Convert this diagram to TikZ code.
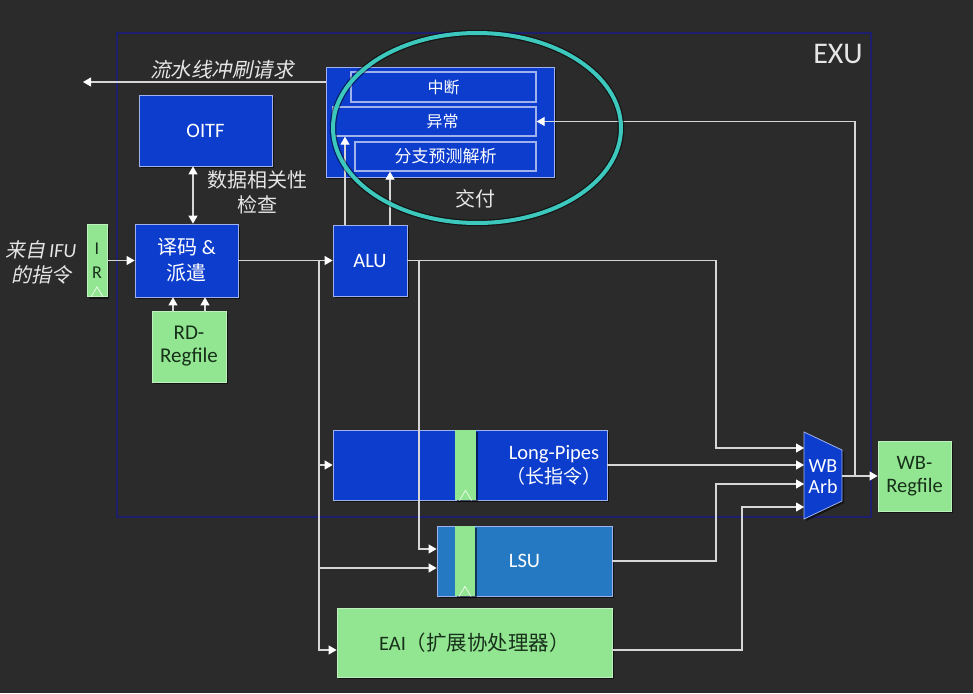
\documentclass[tikz,border=0pt]{standalone}
\usepackage{fontspec}
\setmainfont{Carlito}
\newfontfamily\cjk{Noto Sans CJK SC}
\newfontfamily\cjkit{Noto Sans CJK SC}[FakeSlant=0.2]
\usetikzlibrary{arrows.meta,shadows}

\definecolor{bgc}{HTML}{2B2B2B}
\definecolor{exuc}{HTML}{1E1E6E}
\definecolor{blkc}{HTML}{0D3DCD}
\definecolor{blkline}{HTML}{9FB2EE}
\definecolor{lsuc}{HTML}{2479C2}
\definecolor{grnc}{HTML}{93E691}
\definecolor{grntxt}{HTML}{17301A}
\definecolor{wirec}{HTML}{D6D6D6}
\definecolor{ringc}{HTML}{3CC8BC}
\definecolor{txtc}{HTML}{E6E6E6}

\tikzset{
	wtip/.tip={Triangle[length=8pt,width=9pt,color=white]},
	shd/.style={drop shadow={shadow xshift=1.5pt,shadow yshift=-2pt,fill=black,opacity=0.55}},
	blk/.style={shd, draw=blkline, line width=0.8pt, fill=blkc, text=white, font=\fontsize{20.5}{26}\selectfont, align=center, inner sep=0pt},
	grn/.style={blk, draw=grnc!60!white, fill=grnc, text=grntxt},
	sub/.style={draw=blkline, line width=1.2pt, fill=blkc, text=white, font=\cjk\fontsize{16}{18}\selectfont, inner sep=0pt},
	wire/.style={draw=wirec, line width=1.1pt, -wtip},
	lbl/.style={text=txtc, inner sep=0pt, align=center},
	clk/.style={draw=white!75!grnc, line width=0.8pt},
}

\begin{document}
\begin{tikzpicture}[x=1pt,y=-1pt]
	\useasboundingbox (0,0) rectangle (973,693);
	\fill[bgc] (0,0) rectangle (973,693);
	% EXU frame
	\draw[exuc, line width=2.5pt] (117,33) rectangle (871,517);
	\node[lbl, font=\fontsize{30}{32}\selectfont] (exu) at (838,54) {EXU};
	% commit
	\node[blk, minimum width=228pt, minimum height=110pt] (commit) at (440,122) {};
	\node[sub, minimum width=185pt, minimum height=30pt] (intr) at (443.5,87) {中断};
	\node[sub, minimum width=203pt, minimum height=29pt] (excp) at (434.5,121.5) {\hspace*{16pt}异常};
	\node[sub, minimum width=181pt, minimum height=29pt, font=\cjk\fontsize{17}{18}\selectfont] (bpu) at (445.5,156.5) {分支预测解析};
	\node[lbl, font=\cjkit\fontsize{20.5}{22}\selectfont] (flushlbl) at (222,70) {流水线冲刷请求};
	\coordinate (flushout) at (83,82);
	% decode side
	\node[blk, minimum width=133pt, minimum height=71pt] (oitf) at (205.5,130.5) {OITF};
	\node[blk, minimum width=103pt, minimum height=73pt] (disp) at (186.5,260.5) {{\cjk\fontsize{20}{26}\selectfont 译码} \&\\{\cjk\fontsize{20}{26}\selectfont 派遣}};
	\node[grn, minimum width=20pt, minimum height=72pt, font=\fontsize{18}{24}\selectfont] (ir) at (97,260.5) {I\\R};
	\draw[clk] ([xshift=-6]ir.south) -- ([yshift=10]ir.south) -- ([xshift=6]ir.south);
	\node[grn, minimum width=74pt, minimum height=71pt, font=\fontsize{21}{23}\selectfont] (rdreg) at (189,346.5) {RD-\\Regfile};
	\node[lbl, font=\cjk\fontsize{20}{25}\selectfont] (dep) at (257,192) {数据相关性\\检查};
	\node[lbl, font=\fontsize{20}{25}\selectfont] (ifu) at (41,262) {{\cjkit 来自}\,\textit{IFU}\\{\cjkit 的指令}};
	% execute units
	\node[blk, minimum width=74pt, minimum height=71pt] (alu) at (370,260.5) {ALU};
	\node[blk, minimum width=274pt, minimum height=70pt] (lpipe) at (470,465) {};
	\node[grn, draw=none, minimum width=21pt, minimum height=70pt] (lpstripe) at (465.5,465) {};
	\draw[clk] ([xshift=-6]lpstripe.south) -- ([yshift=10]lpstripe.south) -- ([xshift=6]lpstripe.south);
	\node[lbl, text=white, font=\fontsize{20.5}{24}\selectfont] (lptxt) at (554,465) {Long-Pipes\\{\cjk\fontsize{19}{24}\selectfont （长指令）}};
	\node[blk, fill=lsuc, minimum width=175pt, minimum height=70pt] (lsu) at (524.5,561) {LSU};
	\node[grn, draw=none, minimum width=20pt, minimum height=70pt] (lsustripe) at (465,561) {};
	\draw[clk] ([xshift=-6]lsustripe.south) -- ([yshift=10]lsustripe.south) -- ([xshift=6]lsustripe.south);
	\node[grn, minimum width=275pt, minimum height=69pt] (eai) at (474.5,642.5) {EAI{\cjk\fontsize{20.5}{24}\selectfont （扩展协处理器）}};
	% write back
	\fill[black, opacity=0.55] (806,434) -- (844,452) -- (844,503) -- (806,521) -- cycle;
	\filldraw[fill=blkc, draw=blkline, line width=0.8pt] (804,432) -- (842,450) -- (842,501) -- (804,519) -- cycle;
	\node[lbl, text=white, font=\fontsize{20}{21}\selectfont] (wbarb) at (823,477) {WB\\Arb};
	\coordinate (wbin1) at (804,448);
	\coordinate (wbin2) at (804,465);
	\coordinate (wbin3) at (804,484);
	\coordinate (wbin4) at (804,507);
	\coordinate (wbout) at (842,476);
	\coordinate (wbJ) at (855,476);
	\node[grn, minimum width=73pt, minimum height=70pt, font=\fontsize{20.5}{23}\selectfont] (wbreg) at (914.5,476) {WB-\\Regfile};
	% connectors
	\draw[wire] (commit.west |- flushout) -- (flushout);
	\draw[wire, wtip-wtip] ([xshift=-12.5]oitf.south) -- ([xshift=6.5]disp.north);
	\draw[wire] (ir.east) -- (disp.west);
	\draw[wire] ([xshift=-16]rdreg.north) -- ([xshift=-16]rdreg.north |- disp.south);
	\draw[wire] ([xshift=16]rdreg.north) -- ([xshift=16]rdreg.north |- disp.south);
	\draw[wire] (disp.east) -- (alu.west);
	\coordinate (busL) at (319,260.5);
	\draw[wire] (busL) |- (lpipe.west);
	\draw[wire] (busL) |- ([yshift=-7]lsu.west);
	\draw[wire] (busL) |- ([yshift=-7.5]eai.west);
	\draw[wire] ([xshift=-25]alu.north) -- ([xshift=-25]alu.north |- excp.south);
	\draw[wire] ([xshift=20]alu.north) -- ([xshift=20]alu.north |- bpu.south);
	\coordinate (lsuJ) at (419,260.5);
	\draw[wire] (alu.east) -| ([xshift=-88]wbin1) -- (wbin1);
	\draw[wire] (lsuJ) |- ([yshift=12]lsu.west);
	\draw[wire] (lpipe.east) -- (wbin2);
	\draw[wire] (lsu.east) -| ([xshift=-88]wbin3) -- (wbin3);
	\draw[wire] ([yshift=-7.5]eai.east) -| ([xshift=-62]wbin4) -- (wbin4);
	\draw[wire] (wbout) -- (wbreg.west);
	\draw[wire] (wbJ) |- (excp.east);
	% delivery ring
	\draw[black, opacity=0.5, line width=6.5pt] (477,128) ellipse [x radius=144pt, y radius=95pt];
	\draw[ringc, line width=4pt] (477,128) ellipse [x radius=144pt, y radius=95pt];
	\node[lbl, font=\cjk\fontsize{20}{22}\selectfont] (jiaofu) at (475,199) {交付};
\end{tikzpicture}
\end{document}
